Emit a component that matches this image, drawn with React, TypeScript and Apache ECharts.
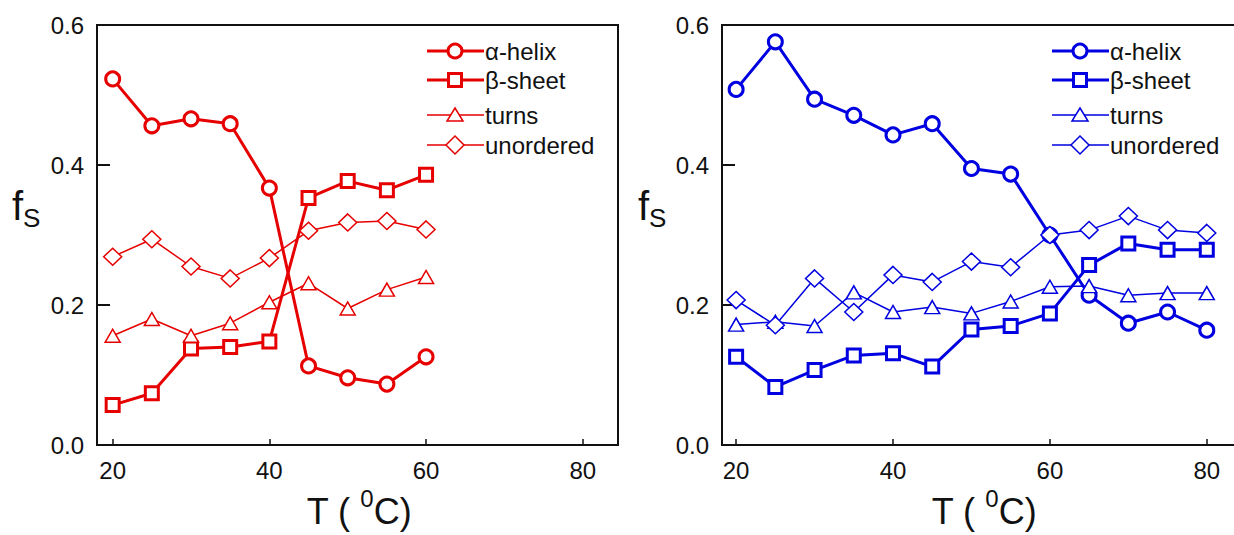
import React, { useEffect, useRef } from 'react';
import * as echarts from 'echarts';

// ---- data ----
const X_LEFT = [20, 25, 30, 35, 40, 45, 50, 55, 60];
const X_RIGHT = [20, 25, 30, 35, 40, 45, 50, 55, 60, 65, 70, 75, 80];

const L_ALPHA = [0.523, 0.456, 0.466, 0.459, 0.367, 0.113, 0.096, 0.087, 0.126];
const L_BETA = [0.057, 0.074, 0.138, 0.140, 0.148, 0.353, 0.377, 0.364, 0.386];
const L_TURNS = [0.156, 0.180, 0.156, 0.174, 0.204, 0.231, 0.195, 0.222, 0.240];
const L_UNORD = [0.269, 0.294, 0.255, 0.238, 0.267, 0.306, 0.318, 0.320, 0.308];

const R_ALPHA = [0.508, 0.576, 0.494, 0.471, 0.443, 0.459, 0.395, 0.387, 0.300, 0.214, 0.174, 0.190, 0.164];
const R_BETA = [0.126, 0.083, 0.107, 0.128, 0.131, 0.112, 0.165, 0.170, 0.188, 0.257, 0.288, 0.279, 0.279];
const R_TURNS = [0.172, 0.176, 0.170, 0.218, 0.190, 0.197, 0.188, 0.205, 0.226, 0.227, 0.214, 0.217, 0.217];
const R_UNORD = [0.207, 0.171, 0.238, 0.190, 0.243, 0.233, 0.262, 0.254, 0.300, 0.307, 0.327, 0.307, 0.303];

const SERIES_NAMES = ['α-helix', 'β-sheet', 'turns', 'unordered'];
const X_TICKS = [20, 40, 60, 80];
const Y_TICKS = [0, 0.2, 0.4, 0.6];
const X_TITLE = 'T ( {s|0}C)';
const Y_TITLE = 'f{s|S}';

const RED = '#e60000';
const BLUE = '#0000e0';
const FONT = '"Liberation Sans", Arial, sans-serif';

const SYMBOLS = ['circle', 'rect', 'triangle', 'diamond'];
const SYMBOL_SIZES: any[] = [14, 13, [15, 13], [18, 17]];
const WIDTHS = [3, 3, 1.5, 1.5];

function makeSeries(xs: number[], ys: number[][], color: string, gridIdx: number) {
  return ys.map((vals, i) => ({
    type: 'line',
    name: SERIES_NAMES[i],
    xAxisIndex: gridIdx,
    yAxisIndex: gridIdx,
    data: xs.map((x, k) => [x, vals[k]]),
    symbol: SYMBOLS[i],
    symbolSize: SYMBOL_SIZES[i],
    lineStyle: { color, width: WIDTHS[i] },
    itemStyle: { color: '#fff', borderColor: color, borderWidth: WIDTHS[i] },
    z: 3 + i,
  }));
}

function legendGraphics(x0: number, color: string) {
  const rows = [51, 80, 115, 145];
  const els: any[] = [];
  rows.forEach((y, i) => {
    const w = WIDTHS[i];
    const cx = x0 + 28;
    els.push({ type: 'line', shape: { x1: x0, y1: y, x2: x0 + 57, y2: y }, style: { stroke: color, lineWidth: w } });
    const ms = { fill: '#fff', stroke: color, lineWidth: w };
    if (i === 0) els.push({ type: 'circle', shape: { cx, cy: y, r: 7 }, style: ms });
    if (i === 1) els.push({ type: 'rect', shape: { x: cx - 6.5, y: y - 6.5, width: 13, height: 13 }, style: ms });
    if (i === 2) els.push({ type: 'polygon', shape: { points: [[cx, y - 7], [cx + 8, y + 6], [cx - 8, y + 6]] }, style: ms });
    if (i === 3) els.push({ type: 'polygon', shape: { points: [[cx, y - 9], [cx + 9, y], [cx, y + 9], [cx - 9, y]] }, style: ms });
    els.push({
      type: 'text', x: x0 + 58, y,
      style: { text: SERIES_NAMES[i], fontSize: 24, fontFamily: FONT, fill: '#111', verticalAlign: 'middle', align: 'left' },
    });
  });
  return els;
}

function xTitle(cx: number) {
  return {
    type: 'text', x: cx, y: 486,
    style: {
      text: X_TITLE, align: 'center', verticalAlign: 'top', fill: '#111',
      fontSize: 36, fontFamily: FONT, lineHeight: 50,
      rich: {
        s: { fontSize: 24, fontFamily: FONT, verticalAlign: 'top', lineHeight: 24 },
      },
    },
  };
}

function yTitle(x: number) {
  return {
    type: 'text', x, y: 181,
    style: {
      text: Y_TITLE, align: 'left', verticalAlign: 'top', fill: '#111',
      fontSize: 40, fontFamily: FONT, lineHeight: 50,
      rich: {
        s: { fontSize: 26, fontFamily: FONT, verticalAlign: 'bottom', lineHeight: 26 },
      },
    },
  };
}

function xAxisCfg(gridIndex: number, min: number, max: number) {
  return {
    type: 'value', gridIndex, min, max,
    axisLine: { show: true, onZero: false, lineStyle: { color: '#111', width: 2 } },
    axisTick: { show: true, inside: true, length: 6, customValues: X_TICKS, lineStyle: { color: '#111', width: 1.5 } },
    axisLabel: { customValues: X_TICKS, fontSize: 24, fontFamily: FONT, color: '#111', margin: 13 },
    splitLine: { show: false },
  };
}

function yAxisCfg(gridIndex: number) {
  return {
    type: 'value', gridIndex, min: 0, max: 0.6, interval: 0.2,
    axisLine: { show: true, lineStyle: { color: '#111', width: 2 } },
    axisTick: { show: true, inside: true, length: 13, lineStyle: { color: '#111', width: 2 } },
    axisLabel: { fontSize: 24, fontFamily: FONT, color: '#111', margin: 13, formatter: (v: number) => v.toFixed(1) },
    splitLine: { show: false },
  };
}

export default function App() {
  const ref = useRef<HTMLDivElement>(null);
  useEffect(() => {
    const chart = echarts.init(ref.current!, null, { renderer: 'svg' });
    const option: any = {
      animation: false,
      backgroundColor: '#fff',
      grid: [
        { left: 97, top: 25, width: 521, height: 420, show: true, borderColor: '#111', borderWidth: 2, backgroundColor: 'transparent', outerBoundsMode: 'none' },
        { left: 722, top: 25, width: 524, height: 420, show: true, borderColor: '#111', borderWidth: 2, backgroundColor: 'transparent', outerBoundsMode: 'none' },
      ],
      xAxis: [xAxisCfg(0, 18, 84.5), xAxisCfg(1, 18.2, 85)],
      yAxis: [yAxisCfg(0), yAxisCfg(1)],
      series: [
        ...makeSeries(X_LEFT, [L_ALPHA, L_BETA, L_TURNS, L_UNORD], RED, 0),
        ...makeSeries(X_RIGHT, [R_ALPHA, R_BETA, R_TURNS, R_UNORD], BLUE, 1),
      ],
      graphic: [
        ...legendGraphics(427, RED),
        ...legendGraphics(1052, BLUE),
        xTitle(359),
        xTitle(984),
        yTitle(12),
        yTitle(638),
      ],
    };
    chart.setOption(option);
    return () => chart.dispose();
  }, []);
  return <div ref={ref} style={{ position: 'fixed', left: 0, top: 0, width: 1234, height: 535, background: '#fff' }} />;
}
